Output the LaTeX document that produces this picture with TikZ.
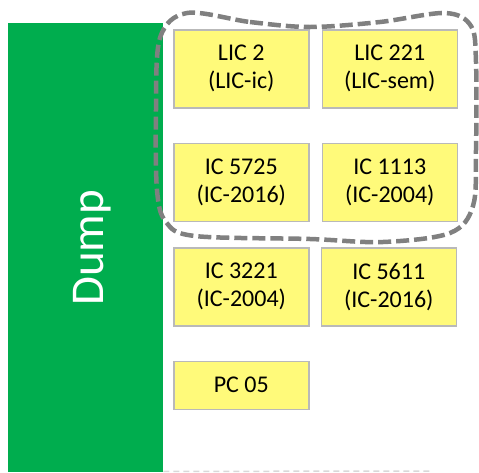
\documentclass[tikz,border=0pt]{standalone}
\usepackage{fontspec}
\setmainfont{Carlito}
\usetikzlibrary{positioning}

\definecolor{dumpgreen}{RGB}{0,173,78}
\definecolor{boxyellow}{RGB}{255,250,122}
\definecolor{boxedge}{RGB}{185,185,185}
\definecolor{groupgray}{RGB}{128,128,128}
\definecolor{faintgray}{RGB}{217,217,217}

\begin{document}
\begin{tikzpicture}[
  x=1pt, y=1pt, node distance=34pt,
  dumpbar/.style={rectangle, fill=dumpgreen, inner sep=0pt, minimum width=155pt, minimum height=449pt},
  card/.style={draw=boxedge, line width=1.5pt, fill=boxyellow, rectangle, inner sep=0pt,
    minimum width=135pt, minimum height=78pt, align=center, font=\fontsize{24}{28}\selectfont},
  group/.style={draw=groupgray, line width=4.5pt, dash pattern=on 13pt off 5pt}
]
\useasboundingbox (0,0) rectangle (479,-472);

\node[dumpbar, anchor=north west] (dump) at (8,-23) {};
\node[rotate=90, text=white, font=\fontsize{47}{52}\selectfont] (dumplabel) at ([xshift=7pt]dump.center) {Dump};

\node[card, anchor=north west] (lic2) at (173,-29) {LIC 2\\(LIC-ic)};
\node[card, right=12pt of lic2] (lic221) {LIC 221\\(LIC-sem)};
\node[card, below=of lic2] (ic5725) {IC 5725\\(IC-2016)};
\node[card, below=of lic221] (ic1113) {IC 1113\\(IC-2004)};
\node[card, below=25pt of ic5725] (ic3221) {IC 3221\\(IC-2004)};
\node[card, below=25pt of ic1113, xshift=-1pt] (ic5611) {IC 5611\\(IC-2016)};
\node[card, below=of ic3221, minimum height=48pt] (pc05) {PC 05};

% group outline round the top four
\draw[group] plot[smooth cycle, tension=0.55] coordinates {
  (187,-13) (250,-22) (310,-27) (380,-22) (445,-13) (471,-26) (476,-62)
  (476,-150) (473,-206) (450,-233) (383,-242) (310,-239) (195,-236)
  (166,-222) (157,-190) (156,-110) (160,-38)};

% faint edge at the bottom
\coordinate (bottomend) at (433,-471);
\draw[faintgray, line width=1.5pt, dash pattern=on 6pt off 4pt] (dump.south east) ++(0,1) -- (bottomend);

\end{tikzpicture}
\end{document}
